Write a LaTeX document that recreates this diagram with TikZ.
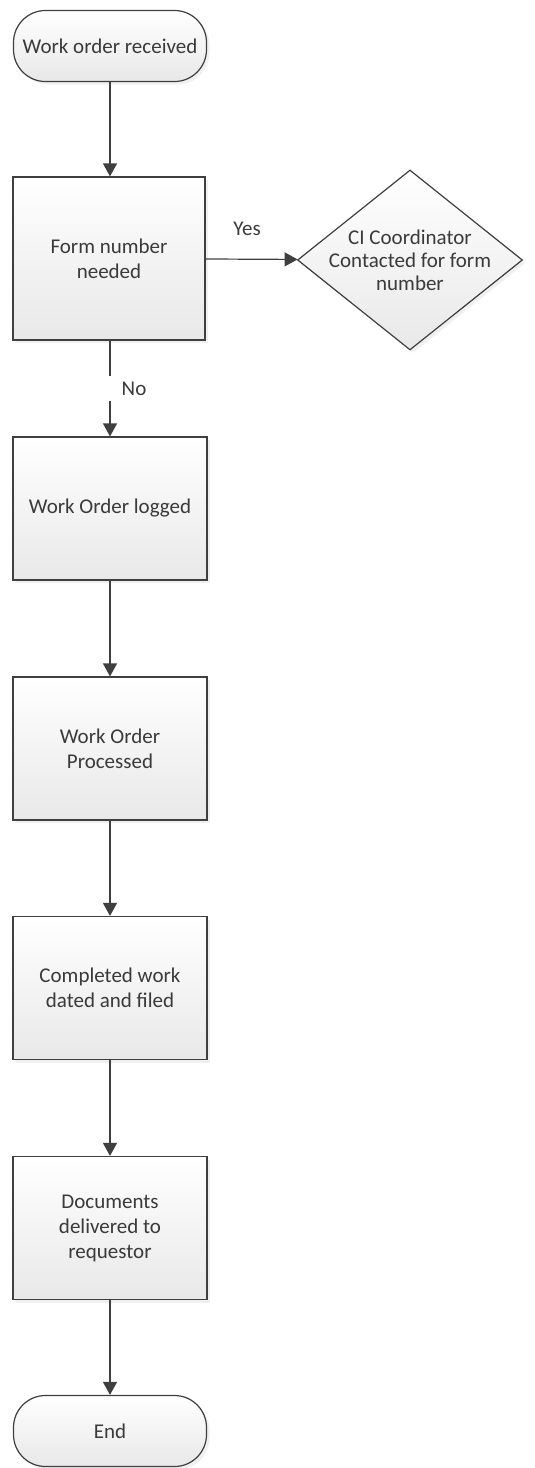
\documentclass[tikz,border=0pt]{standalone}
\usepackage{fontspec}
\setmainfont{Carlito}
\usepackage{tikz}
\usetikzlibrary{shapes,shapes.geometric,arrows.meta,positioning,shadows}

\definecolor{linegray}{HTML}{3F3F3F}
\definecolor{textgray}{HTML}{3A3A3A}

\begin{document}
\begin{tikzpicture}[
    x=1pt, y=1pt,
    font=\fontsize{21}{25}\selectfont, text=textgray,
    base/.style={draw=linegray, line width=1.2pt, top color=white, bottom color=black!9,
        drop shadow={opacity=0.12, shadow xshift=3pt, shadow yshift=-3pt}},
    box/.style={base, rectangle, minimum width=194pt, minimum height=143pt, align=center, inner sep=2pt},
    term/.style={base, rectangle, rounded corners=32pt, minimum width=193pt, minimum height=71pt, align=center},
    decision/.style={base, diamond, minimum width=225pt, minimum height=180pt, inner sep=0pt},
    arrow/.style={draw=linegray, line width=1.2pt, -{Triangle[length=13pt, width=14pt]}}
]
    \useasboundingbox (0,0) rectangle (535,-1468);

    % Main column
    \node[term] (start) at (110,-46) {Work order received};
    \node[box, minimum width=192pt, minimum height=163pt] (formno) at (109,-258.5) {Form number\\needed};
    \node[box] (logged) at (110,-508.5) {Work Order logged};
    \node[box] (processed) at (110,-748.5) {Work Order\\Processed};
    \node[box] (filed) at (110,-988) {Completed work\\dated and filed};
    \node[box] (delivered) at (110,-1228) {Documents\\delivered to\\requestor};
    \node[term] (end) at (110,-1431) {End};

    % Side branch
    \node[decision, label={[align=center, font=\fontsize{21}{23}\selectfont, text=textgray]center:CI Coordinator\\Contacted for form\\number}] (coord) at (410,-260) {};

    % Arrows
    \draw[arrow] (start) -- (start |- formno.north);
    \draw[arrow] (formno) -- node[pos=0.45, above=20pt] {Yes} (coord);
    \draw[arrow] (formno.south -| logged) -- node[pos=0.5, fill=white, minimum width=54pt, minimum height=25pt, inner sep=0pt, xshift=24pt] {No} (logged);
    \draw[arrow] (logged) -- (processed);
    \draw[arrow] (processed) -- (filed);
    \draw[arrow] (filed) -- (delivered);
    \draw[arrow] (delivered) -- (end);
\end{tikzpicture}
\end{document}
